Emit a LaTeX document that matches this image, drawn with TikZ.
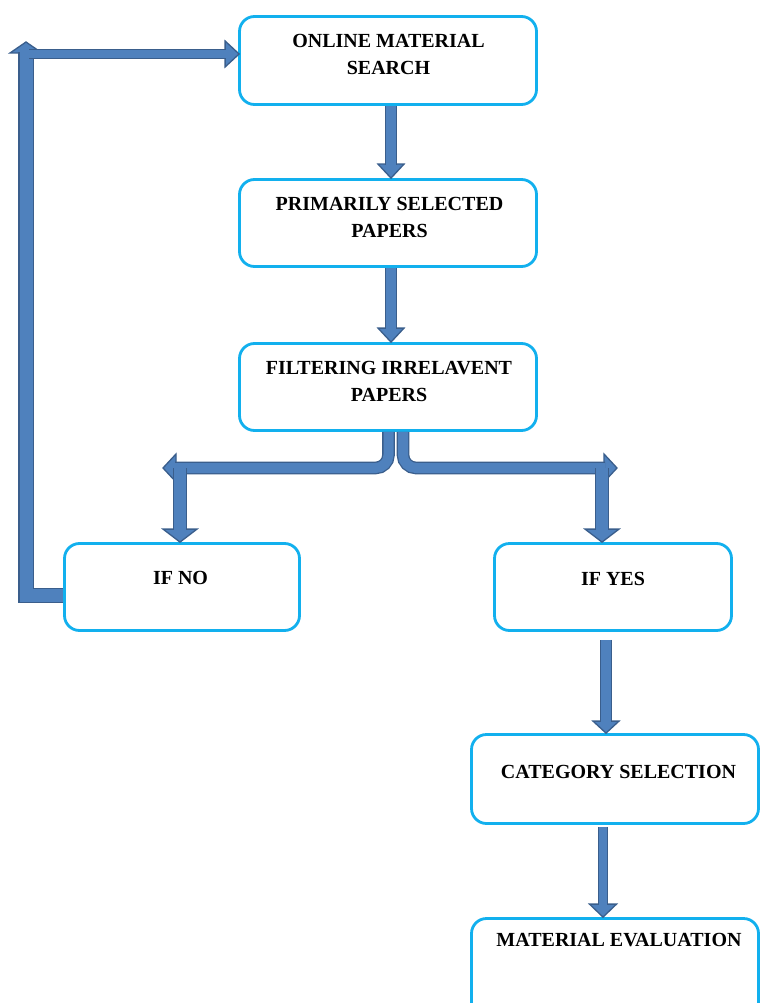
\documentclass[tikz,border=0pt]{standalone}
\usepackage{fontspec}
\setmainfont{Liberation Serif}
\usetikzlibrary{calc}
\definecolor{bord}{HTML}{12B0EE}
\definecolor{afill}{HTML}{4F81BD}
\definecolor{adark}{HTML}{3A5E8C}
\tikzset{
  box/.style={draw=bord, line width=2.8pt, rounded corners=15pt, fill=white, inner sep=0pt},
  lbl/.style={font=\fontsize{20}{27}\selectfont\bfseries, align=center, inner sep=0pt, text=black},
  shaft/.style={draw=adark, line width=1.3pt, double=afill, double distance=#1},
  pics/ahead/.style n args={2}{code={\filldraw[fill=afill, draw=adark, line width=1.3pt, line join=miter] (0,0) -- (-#1,#2) -- (#1,#2) -- cycle;}}
}
\begin{document}
\begin{tikzpicture}[x=1pt, y=-1pt]
\useasboundingbox (0,0) rectangle (760,1003);
\fill[white] (0,0) rectangle (760,1003);

% boxes
\node[box, minimum width=297pt, minimum height=88pt] (b1) at (388,60.5) {};
\node[box, minimum width=297pt, minimum height=87pt] (b2) at (388,223) {};
\node[box, minimum width=297pt, minimum height=87pt] (b3) at (388,387) {};
\node[box, minimum width=235pt, minimum height=87pt] (b4) at (182,587) {};
\node[box, minimum width=237pt, minimum height=87pt] (b5) at (613,587) {};
\node[box, minimum width=287pt, minimum height=89pt] (b6) at (615,779) {};
\node[box, minimum width=287pt, minimum height=123pt] (b7) at (615,980) {};

% labels
\node[lbl] (t1) at (388.5,54.2) {ONLINE MATERIAL\\SEARCH};
\node[lbl] (t2) at (389.5,217) {PRIMARILY SELECTED\\PAPERS};
\node[lbl] (t3) at (389,381) {FILTERING IRRELAVENT\\PAPERS};
\node[lbl] (t4) at (180.5,578.3) {IF NO};
\node[lbl] (t5) at (613,579.3) {IF YES};
\node[lbl] (t6) at (618.5,771.5) {CATEGORY SELECTION};
\node[lbl] (t7) at (619,940) {MATERIAL EVALUATION};

% coordinates for free ends
\coordinate (tl) at (163,468);
\coordinate (tr) at (617,468);
\coordinate (jl) at (180,468);
\coordinate (jr) at (602,468);
\coordinate (tu) at (26,42);

% online -> primarily
\pic at ([xshift=3pt]b2.north) {ahead={13pt}{14pt}};
\draw[shaft=10pt] ([xshift=3pt]b1.south) -- ([xshift=3pt,yshift=13pt]b2.north);
% primarily -> filtering
\pic at ([xshift=3pt]b3.north) {ahead={13pt}{14pt}};
\draw[shaft=10pt] ([xshift=3pt]b2.south) -- ([xshift=3pt,yshift=13pt]b3.north);

% split from filtering
\pic[rotate=-90] at (tl) {ahead={14pt}{13pt}};
\draw[shaft=10pt, rounded corners=13pt] ([xshift=0.5pt]b3.south) |- ([xshift=12pt]tl);
\pic[rotate=90] at (tr) {ahead={14pt}{13pt}};
\draw[shaft=10pt, rounded corners=13pt] ([xshift=15pt]b3.south) |- ([xshift=-12pt]tr);

% down to IF NO / IF YES
\pic at ([xshift=-2pt]b4.north) {ahead={17pt}{13pt}};
\draw[shaft=11.5pt] (jl) -- ([xshift=-2pt,yshift=12pt]b4.north);
\pic at ([xshift=-11pt]b5.north) {ahead={17pt}{13pt}};
\draw[shaft=11.5pt] (jr) -- ([xshift=-11pt,yshift=12pt]b5.north);

% loop back from IF NO
\pic[rotate=180] at (tu) {ahead={16pt}{11pt}};
\draw[shaft=13pt] ([yshift=-8.5pt]b4.west) -| ([yshift=-10pt]tu);
\pic[rotate=90] at ([xshift=1pt,yshift=6.5pt]b1.west) {ahead={13pt}{14pt}};
\draw[shaft=8pt] ([xshift=3pt,yshift=-12pt]tu) -- ([xshift=-12pt,yshift=6.5pt]b1.west);

% IF YES -> category
\pic at ([xshift=-9pt]b6.north) {ahead={13pt}{12pt}};
\draw[shaft=10pt] ([xshift=-7pt,yshift=-8pt]b5.south) -- ([xshift=-9pt,yshift=11pt]b6.north);
% category -> material
\pic at ([xshift=-12pt]b7.north) {ahead={13.5pt}{13pt}};
\draw[shaft=8pt] ([xshift=-12pt,yshift=-2pt]b6.south) -- ([xshift=-12pt,yshift=12pt]b7.north);
\end{tikzpicture}
\end{document}
